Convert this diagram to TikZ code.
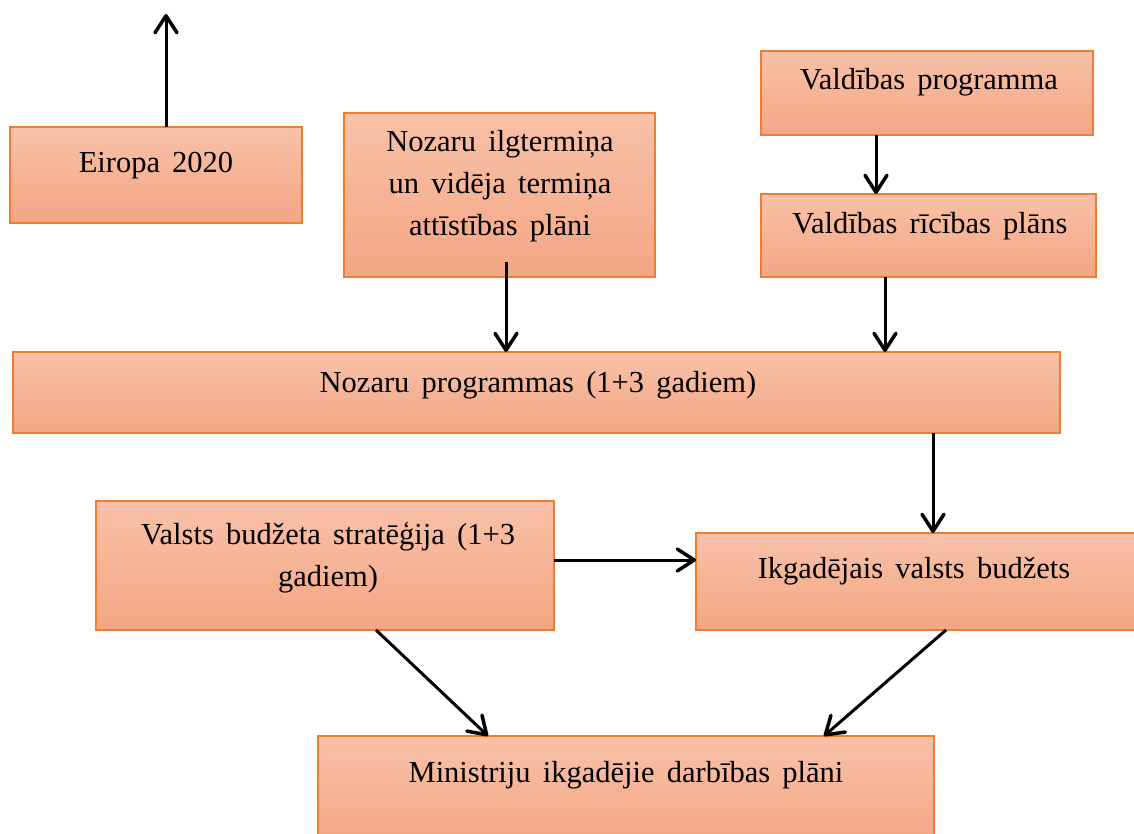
\documentclass[tikz,border=0pt]{standalone}
\usepackage{fontspec}
\setmainfont{Liberation Serif}
\usetikzlibrary{arrows.meta}
\definecolor{boxtop}{RGB}{248,193,168}
\definecolor{boxbot}{RGB}{244,166,132}
\definecolor{boxline}{RGB}{237,125,49}
\newcommand{\boxlabelfont}{\fontsize{30.5}{42}\selectfont\spaceskip=0.4em plus 0.1em\relax}
\tikzset{
  box/.style={draw=boxline, line width=2pt, top color=boxtop, bottom color=boxbot,
    rectangle, anchor=north west, inner sep=0pt, outer sep=0pt},
  lbl/.style={anchor=base, inner sep=0pt, align=center, font=\boxlabelfont},
  flow/.style={line width=3pt, -{Straight Barb[length=17pt,width=22pt,line width=3.5pt,round]}}
}
\begin{document}
\begin{tikzpicture}[x=1pt,y=-1pt]
\useasboundingbox (0,0) rectangle (1134,834);
\clip (0,0) rectangle (1134,834);

% boxes (top-left corner, size)
\node[box, minimum width=292pt, minimum height=96pt] (eu) at (10,127) {};
\node[box, minimum width=311pt, minimum height=164pt] (nozil) at (344,113) {};
\node[box, minimum width=332pt, minimum height=84pt] (vp) at (761,51) {};
\node[box, minimum width=335pt, minimum height=83pt] (vr) at (761,194) {};
\node[box, minimum width=1047pt, minimum height=81pt] (noprog) at (13,352) {};
\node[box, minimum width=458pt, minimum height=129pt] (vbs) at (96,501) {};
\node[box, minimum width=450pt, minimum height=97pt] (ikg) at (696,533) {};
\node[box, minimum width=616pt, minimum height=110pt] (min) at (318,736) {};

% labels (multi-line labels sit on the baseline of their last line)
\node[lbl] (eu-t) at (156,173) {Eiropa 2020};
\node[lbl] (nozil-t) at (500,236) {Nozaru ilgtermiņa\\un vidēja termiņa\\attīstības plāni};
\node[lbl] (vp-t) at (929,90) {Valdības programma};
\node[lbl] (vr-t) at (930,234) {Valdības rīcības plāns};
\node[lbl] (noprog-t) at (538,392) {Nozaru programmas (1+3 gadiem)};
\node[lbl] (vbs-t) at (328,586) {Valsts budžeta stratēģija (1+3\\gadiem)};
\node[lbl] (ikg-t) at (914,578) {Ikgadējais valsts budžets};
\node[lbl] (min-t) at (626,782) {Ministriju ikgadējie darbības plāni};

% connectors
\coordinate (eu-up) at (166,14);
\coordinate (nozil-out) at (506,262);
\draw[flow] (eu.north -| eu-up) -- (eu-up);
\draw[flow] (nozil-out) -- (noprog.north -| nozil-out);
\draw[flow] (vp.south -| 876,0) -- (vr.north -| 876,0);
\draw[flow] (vr.south -| 885,0) -- (noprog.north -| 885,0);
\draw[flow] (noprog.south -| 933,0) -- (ikg.north -| 933,0);
\draw[flow] (vbs.east |- 0,560) -- (ikg.west |- 0,560);
\draw[flow] (vbs.south -| 376,0) -- (min.north -| 488,0);
\draw[flow] (ikg.south -| 946,0) -- (min.north -| 824,0);
\end{tikzpicture}
\end{document}
